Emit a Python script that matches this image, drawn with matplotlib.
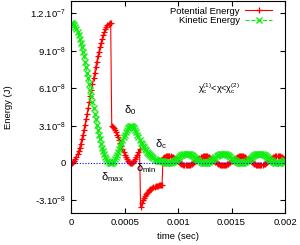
import numpy as np
import matplotlib.pyplot as plt

# samples every 10 microseconds, energies in units of 1e-8 J
t_step = 1e-5

potential = [
    0.00, 0.02, 0.08, 0.18, 0.32, 0.50, 0.71, 0.96, 1.24, 1.56, 1.90, 2.27, 2.66,
    3.08, 3.51, 3.96, 4.42, 4.89, 5.36, 5.84, 6.31, 6.78, 7.24, 7.69, 8.12, 8.54,
    8.93, 9.30, 9.64, 9.96, 10.24, 10.49, 10.70, 10.88, 11.02, 11.12, 11.18, 11.20,
    2.93, 2.87, 2.77, 2.64, 2.47, 2.28, 2.07, 1.84, 1.60, 1.35, 1.11, 0.88, 0.67,
    0.48, 0.31, 0.18, 0.08, 0.02, 0.00, 0.02, 0.08, 0.18, 0.31, 0.48, 0.67, 0.88, 1.11,
    -3.50, -3.22, -3.00, -2.81, -2.65, -2.51, -2.39, -2.29, -2.20, -2.12, -2.05,
    -1.99, -1.94, -1.90, -1.86, -1.83, -1.81, -1.79, -1.78, -1.77, -1.76,
    0.40, 0.45, 0.49, 0.52, 0.54,
    0.55, 0.54, 0.52, 0.49, 0.45, 0.40, 0.34, 0.28, 0.21, 0.14, 0.07, 0.01, -0.05,
    -0.10, -0.14, -0.17, -0.19, -0.20, -0.19, -0.17, -0.14, -0.10, -0.05, 0.01, 0.07,
    0.14, 0.21, 0.28, 0.34, 0.40, 0.45, 0.49, 0.52, 0.54,
    0.55, 0.54, 0.52, 0.49, 0.45, 0.40, 0.34, 0.28, 0.21, 0.14, 0.07, 0.01, -0.05,
    -0.10, -0.14, -0.17, -0.19, -0.20, -0.19, -0.17, -0.14, -0.10, -0.05, 0.01, 0.07,
    0.14, 0.21, 0.28, 0.34, 0.40, 0.45, 0.49, 0.52, 0.54,
    0.55, 0.54, 0.52, 0.49, 0.45, 0.40, 0.34, 0.28, 0.21, 0.14, 0.07, 0.01, -0.05,
    -0.10, -0.14, -0.17, -0.19, -0.20, -0.19, -0.17, -0.14, -0.10, -0.05, 0.01, 0.07,
    0.14, 0.21, 0.28, 0.34, 0.40, 0.45, 0.49, 0.52, 0.54,
    0.55, 0.54, 0.52, 0.49, 0.45, 0.40, 0.34, 0.28,
]

kinetic = [
    11.20, 11.18, 11.12, 11.02, 10.88, 10.70, 10.49, 10.24, 9.96, 9.64, 9.30, 8.93,
    8.54, 8.12, 7.69, 7.24, 6.78, 6.31, 5.84, 5.36, 4.89, 4.42, 3.96, 3.51, 3.08,
    2.66, 2.27, 1.90, 1.56, 1.24, 0.96, 0.71, 0.50, 0.32, 0.18, 0.08, 0.02, 0.00,
    0.02, 0.08, 0.18, 0.31, 0.48, 0.67, 0.88, 1.11, 1.35, 1.60, 1.84, 2.07, 2.28,
    2.47, 2.64, 2.77, 2.87, 2.93, 2.95, 2.93, 2.87, 2.77, 2.64, 2.47, 2.28, 2.07, 1.84,
    1.62, 1.50, 1.38, 1.26, 1.14, 1.03, 0.92, 0.82, 0.72, 0.63, 0.54, 0.46, 0.39,
    0.32, 0.27, 0.22, 0.18, 0.15, 0.13, 0.12, 0.12,
    0.15, 0.10, 0.06, 0.03, 0.01,
    0.00, 0.01, 0.03, 0.06, 0.10, 0.15, 0.21, 0.27, 0.34, 0.41, 0.48, 0.54, 0.60,
    0.65, 0.69, 0.72, 0.74, 0.75, 0.74, 0.72, 0.69, 0.65, 0.60, 0.54, 0.48, 0.41,
    0.34, 0.27, 0.21, 0.15, 0.10, 0.06, 0.03, 0.01,
    0.00, 0.01, 0.03, 0.06, 0.10, 0.15, 0.21, 0.27, 0.34, 0.41, 0.48, 0.54, 0.60,
    0.65, 0.69, 0.72, 0.74, 0.75, 0.74, 0.72, 0.69, 0.65, 0.60, 0.54, 0.48, 0.41,
    0.34, 0.27, 0.21, 0.15, 0.10, 0.06, 0.03, 0.01,
    0.00, 0.01, 0.03, 0.06, 0.10, 0.15, 0.21, 0.27, 0.34, 0.41, 0.48, 0.54, 0.60,
    0.65, 0.69, 0.72, 0.74, 0.75, 0.74, 0.72, 0.69, 0.65, 0.60, 0.54, 0.48, 0.41,
    0.34, 0.27, 0.21, 0.15, 0.10, 0.06, 0.03, 0.01,
    0.00, 0.01, 0.03, 0.06, 0.10, 0.15, 0.21, 0.27,
]

x_ticks = [0, 0.0005, 0.001, 0.0015, 0.002]
x_labels = ["0", "0.0005", "0.001", "0.0015", "0.002"]
y_ticks = [-3e-8, 0, 3e-8, 6e-8, 9e-8, 1.2e-7]
y_labels = ["-3.10$^{-8}$", "0", "3.10$^{-8}$", "6.10$^{-8}$", "9.10$^{-8}$", "1.2.10$^{-7}$"]

# annotations: (text, time, energy)
notes = [
    ("δ$_{max}$", 0.000385, -1.15e-8),
    ("δ$_0$", 0.00055, 4.2e-8),
    ("δ$_{min}$", 0.0007, -0.45e-8),
    ("δ$_c$", 0.00084, 1.5e-8),
]

plt.rcParams["font.family"] = ["Liberation Sans", "DejaVu Sans"]
plt.rcParams["font.size"] = 6.8
plt.rcParams["mathtext.default"] = "regular"

fig = plt.figure(figsize=(3.0, 2.45), dpi=100)
ax = fig.add_axes([0.237, 0.131, 0.713, 0.866])

time = np.arange(len(potential)) * t_step
ax.plot(time, np.array(potential) * 1e-8, color="#ff0000", lw=0.8,
        marker="+", ms=5, mew=0.9, label="Potential Energy")
ax.plot(time, np.array(kinetic) * 1e-8, color="#11ee11", lw=0.8, ls="--",
        marker="x", ms=4, mew=1.0, label="Kinetic Energy")
ax.axhline(0, color="#0000ff", lw=0.8, ls=(0, (1, 1.5)), zorder=5)

for txt, tx, ty in notes:
    ax.text(tx, ty, txt, ha="center", va="center", fontsize=8)
ax.text(0.00138, 6.0e-8, "χ$_c^{(1)}$<χ<χ$_c^{(2)}$", ha="center", va="center", fontsize=6.5)

ax.set_xlim(0, 0.002)
ax.set_ylim(-4e-8, 1.3e-7)
ax.set_xticks(x_ticks)
ax.set_xticklabels(x_labels)
ax.set_yticks(y_ticks)
ax.set_yticklabels(y_labels)
ax.tick_params(direction="in", top=True, right=True, length=3.5, width=0.8, pad=4)
for s in ax.spines.values():
    s.set_linewidth(0.8)

ax.set_xlabel("time (sec)", labelpad=3)
ax.set_ylabel("Energy (J)", labelpad=12)
ax.legend(loc="upper right", markerfirst=False, frameon=False, numpoints=1,
          handlelength=2.8, borderaxespad=1.0, labelspacing=0.1, handletextpad=0.6,
          bbox_to_anchor=(1.0, 1.035))

fig.savefig("out.png", dpi=100)
